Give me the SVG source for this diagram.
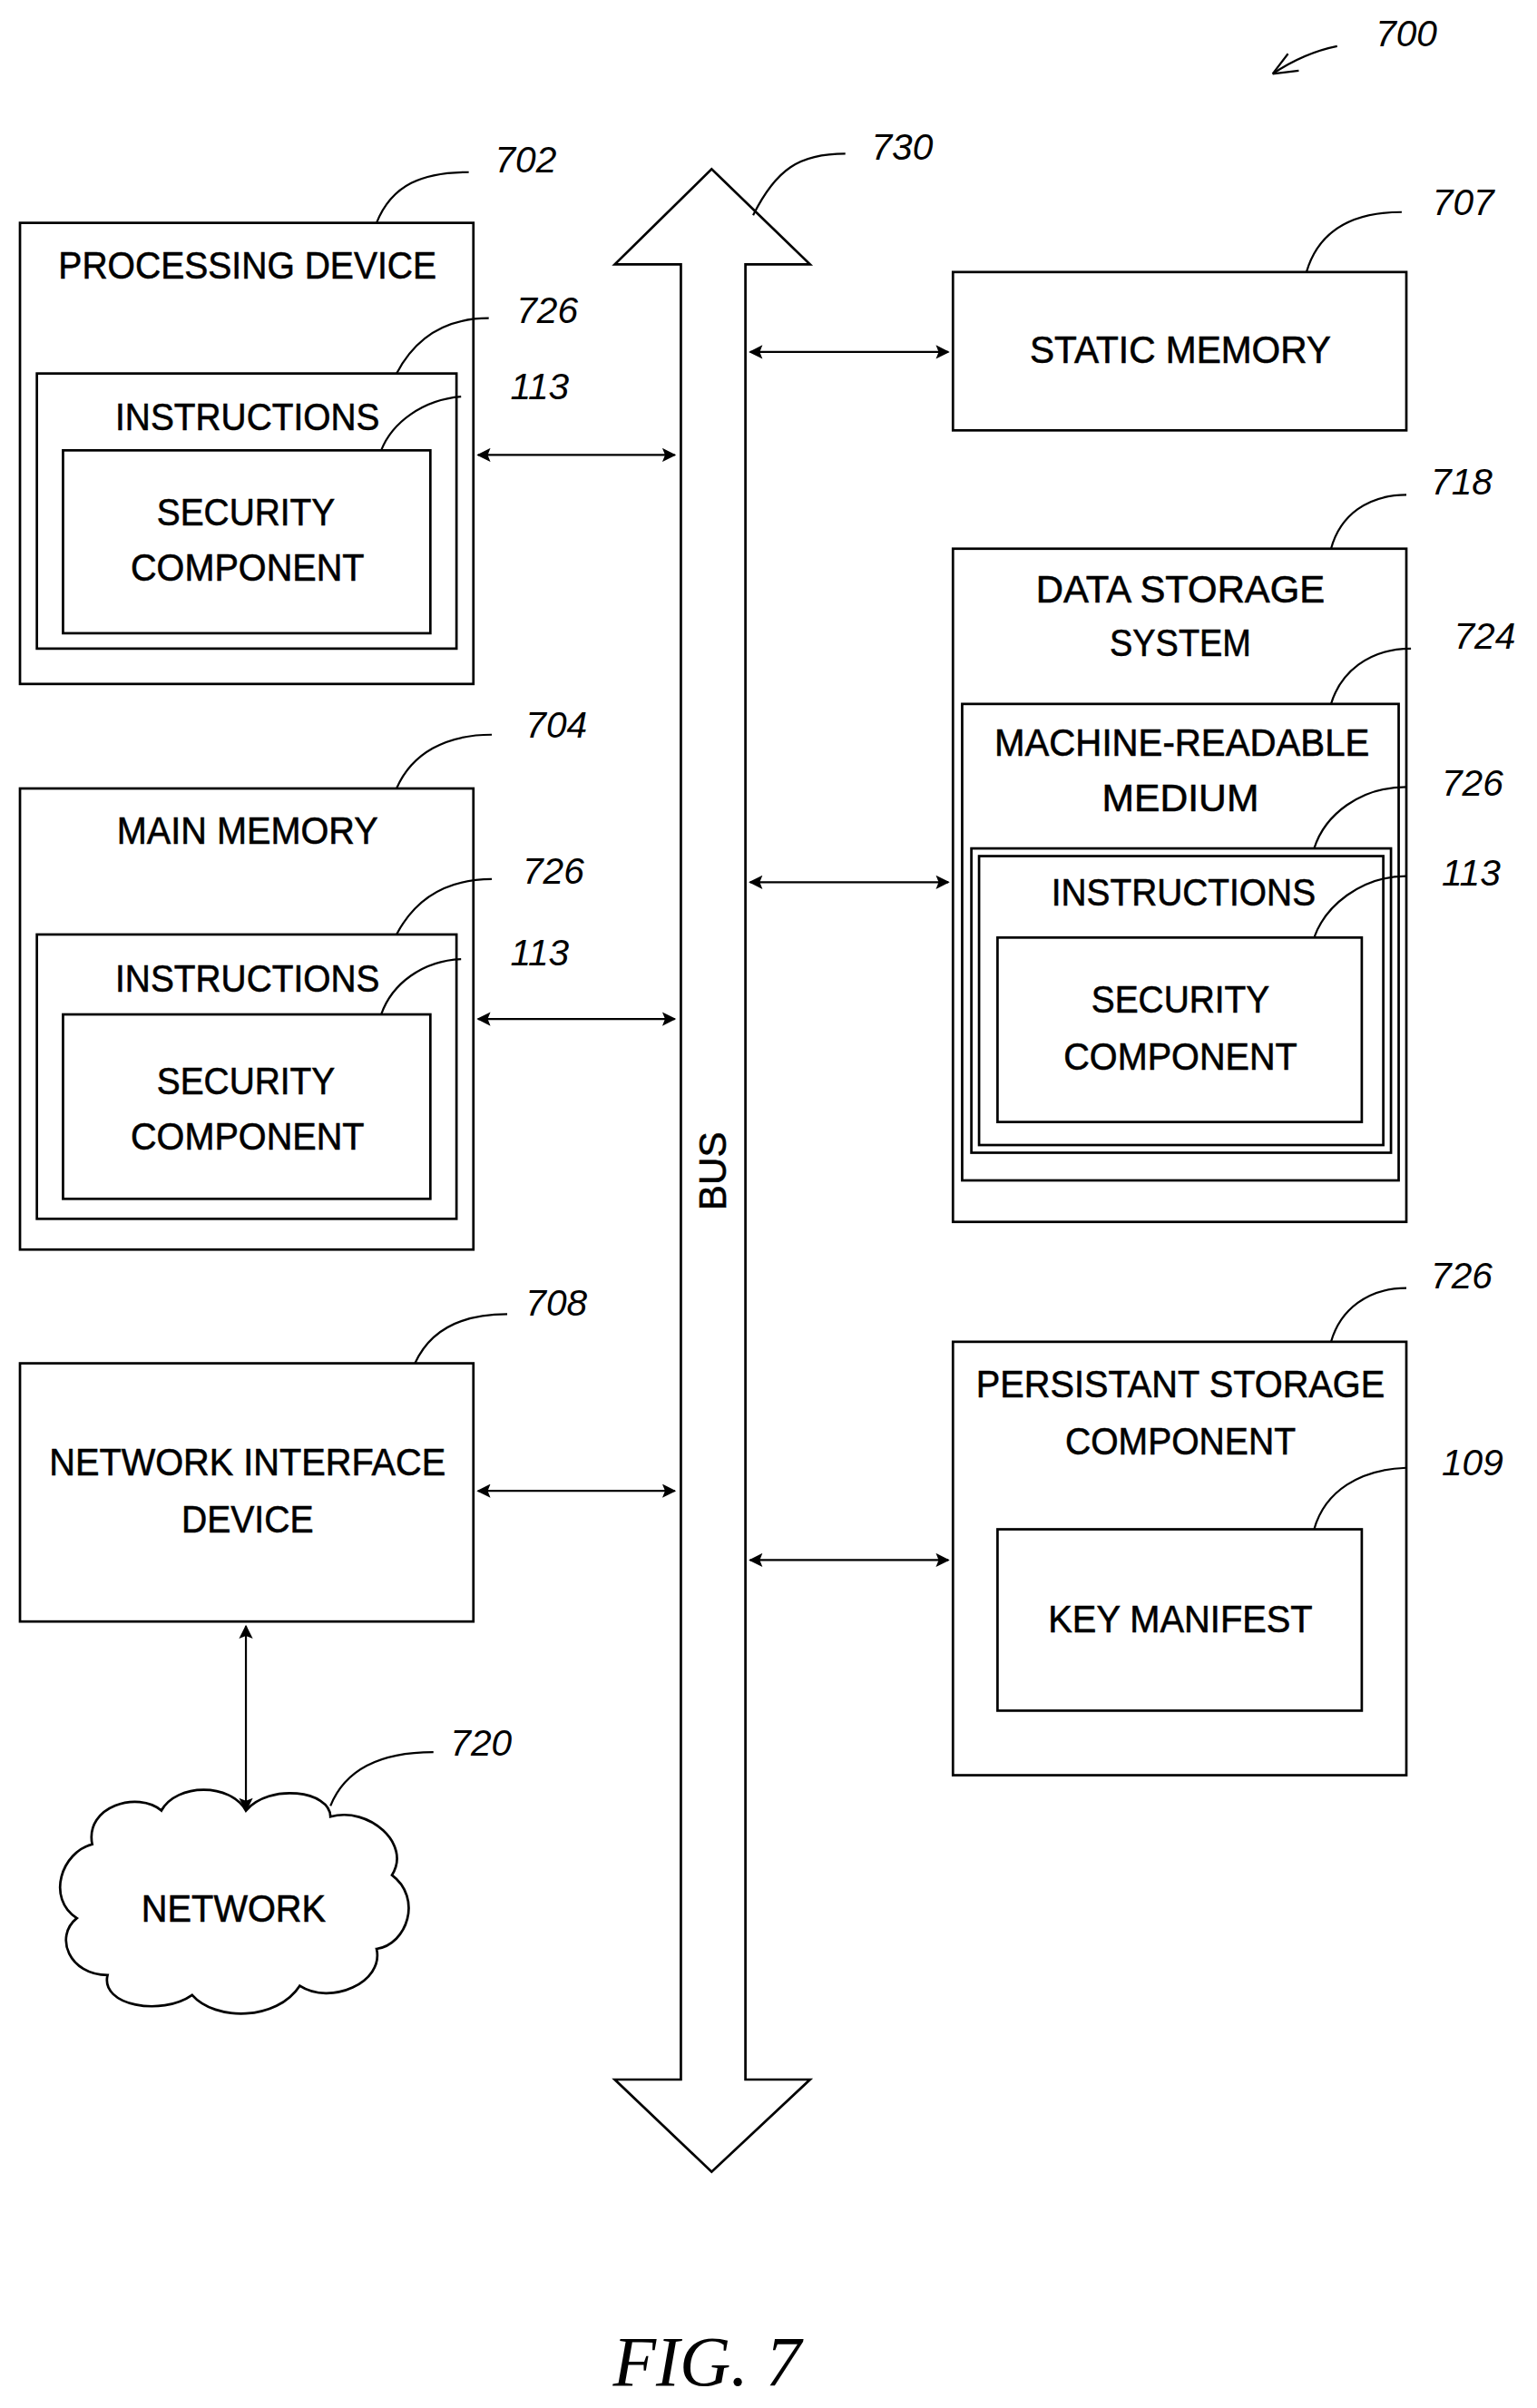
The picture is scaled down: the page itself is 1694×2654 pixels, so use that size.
<svg xmlns="http://www.w3.org/2000/svg" width="1694" height="2654" viewBox="0 0 1694 2654">
<style>
.b{fill:none;stroke:#000;stroke-width:1.6}
.l{fill:none;stroke:#000;stroke-width:1.3}
.t{font-family:"Liberation Sans",Arial,sans-serif;font-size:25px;text-anchor:middle;fill:#000;stroke:#000;stroke-width:0.35}
.n{font-family:"Liberation Sans",Arial,sans-serif;font-size:24px;font-style:italic;fill:#000}
.c{fill:none;stroke:#000;stroke-width:1.3;marker-start:url(#a);marker-end:url(#a)}
</style>
<defs>
<marker id="a" viewBox="0 0 10 10" refX="9" refY="5" markerWidth="11" markerHeight="9" orient="auto-start-reverse" markerUnits="userSpaceOnUse"><path d="M0,0 L10,5 L0,10 L2,5 z" fill="#000"/></marker>
</defs>
<rect width="1694" height="2654" fill="#fff"/>
<g transform="scale(1.694)">
<g id="connectors">
<line class="c" x1="311" y1="296" x2="439" y2="296"/>
<line class="c" x1="311" y1="663" x2="439" y2="663"/>
<line class="c" x1="311" y1="970" x2="439" y2="970"/>
<line class="c" x1="488" y1="229" x2="617" y2="229"/>
<line class="c" x1="488" y1="574" x2="617" y2="574"/>
<line class="c" x1="488" y1="1015" x2="617" y2="1015"/>
<line class="c" x1="160" y1="1058" x2="160" y2="1178"/>
</g>
<g id="bus">
<path class="b" d="M443,1353 L443,172 L400,172 L463,110 L527,172 L485,172 L485,1353 L527,1353 L463,1413 L400,1353 Z"/>
<text class="t" transform="translate(472,762) rotate(-90)" font-size="22">BUS</text>
<path class="l" d="M490,140 C505,110 520,100 550,100"/>
<text class="n" x="567" y="104">730</text>
</g>
<g id="n700">
<text class="n" x="895" y="30">700</text>
<path class="l" d="M870,30 C855,33 840,40 828,48"/>
<path class="l" d="M828,48 L838,35 M828,48 L845,46"/>
</g>
<g id="processing">
<rect class="b" x="13" y="145" width="295" height="300"/>
<text class="t" x="161" y="181" textLength="246" lengthAdjust="spacingAndGlyphs">PROCESSING DEVICE</text>
<rect class="b" x="24" y="243" width="273" height="179"/>
<text class="t" x="161" y="280" textLength="172" lengthAdjust="spacingAndGlyphs">INSTRUCTIONS</text>
<rect class="b" x="41" y="293" width="239" height="119"/>
<text class="t" x="160" y="342" textLength="116" lengthAdjust="spacingAndGlyphs">SECURITY</text>
<text class="t" x="161" y="378" textLength="152" lengthAdjust="spacingAndGlyphs">COMPONENT</text>
<path class="l" d="M245,145 C255,120 275,112 305,112"/><text class="n" x="322" y="112">702</text>
<path class="l" d="M258,243 C270,220 290,207 318,207"/><text class="n" x="336" y="210">726</text>
<path class="l" d="M248,293 C255,275 275,260 300,258"/><text class="n" x="332" y="260">113</text>
</g>
<g id="mainmemory">
<rect class="b" x="13" y="513" width="295" height="300"/>
<text class="t" x="161" y="549" textLength="170" lengthAdjust="spacingAndGlyphs">MAIN MEMORY</text>
<rect class="b" x="24" y="608" width="273" height="185"/>
<text class="t" x="161" y="645" textLength="172" lengthAdjust="spacingAndGlyphs">INSTRUCTIONS</text>
<rect class="b" x="41" y="660" width="239" height="120"/>
<text class="t" x="160" y="712" textLength="116" lengthAdjust="spacingAndGlyphs">SECURITY</text>
<text class="t" x="161" y="748" textLength="152" lengthAdjust="spacingAndGlyphs">COMPONENT</text>
<path class="l" d="M258,513 C268,490 290,478 320,478"/><text class="n" x="342" y="480">704</text>
<path class="l" d="M258,608 C270,585 290,572 320,572"/><text class="n" x="340" y="575">726</text>
<path class="l" d="M248,660 C255,640 275,625 300,624"/><text class="n" x="332" y="628">113</text>
</g>
<g id="nic">
<rect class="b" x="13" y="887" width="295" height="168"/>
<text class="t" x="161" y="960" textLength="258" lengthAdjust="spacingAndGlyphs">NETWORK INTERFACE</text>
<text class="t" x="161" y="997" textLength="86" lengthAdjust="spacingAndGlyphs">DEVICE</text>
<path class="l" d="M270,887 C280,865 300,855 330,855"/><text class="n" x="342" y="856">708</text>
</g>
<g id="network">
<path class="b" d="M60,1200 C55,1175 90,1165 105,1178 C115,1160 150,1160 160,1178 C175,1160 215,1165 215,1182 C240,1175 268,1200 255,1220 C275,1235 265,1265 245,1268 C250,1290 215,1305 195,1292 C180,1315 140,1315 125,1298 C105,1312 65,1305 70,1285 C45,1285 35,1260 50,1248 C30,1235 40,1205 60,1200 Z"/>
<text class="t" x="152" y="1250" textLength="120" lengthAdjust="spacingAndGlyphs">NETWORK</text>
<path class="l" d="M215,1175 C225,1150 250,1140 282,1140"/><text class="n" x="293" y="1142">720</text>
</g>
<g id="static">
<rect class="b" x="620" y="177" width="295" height="103"/>
<text class="t" x="768" y="236" textLength="196" lengthAdjust="spacingAndGlyphs">STATIC MEMORY</text>
<path class="l" d="M850,177 C858,150 880,138 912,138"/><text class="n" x="932" y="140">707</text>
</g>
<g id="datastorage">
<rect class="b" x="620" y="357" width="295" height="438"/>
<text class="t" x="768" y="392" textLength="188" lengthAdjust="spacingAndGlyphs">DATA STORAGE</text>
<text class="t" x="768" y="427" textLength="92" lengthAdjust="spacingAndGlyphs">SYSTEM</text>
<path class="l" d="M866,357 C872,335 890,322 915,322"/><text class="n" x="931" y="322">718</text>
<rect class="b" x="626" y="458" width="284" height="310"/>
<text class="t" x="769" y="492" textLength="244" lengthAdjust="spacingAndGlyphs">MACHINE-READABLE</text>
<text class="t" x="768" y="528" textLength="102" lengthAdjust="spacingAndGlyphs">MEDIUM</text>
<path class="l" d="M866,458 C872,438 890,422 918,422"/><text class="n" x="946" y="422">724</text>
<rect class="b" x="632" y="552" width="273" height="198"/>
<rect class="b" x="637" y="557" width="263" height="188"/>
<text class="t" x="770" y="589" textLength="172" lengthAdjust="spacingAndGlyphs">INSTRUCTIONS</text>
<path class="l" d="M855,552 C862,530 885,512 915,512"/><text class="n" x="938" y="518">726</text>
<rect class="b" x="649" y="610" width="237" height="120"/>
<text class="t" x="768" y="659" textLength="116" lengthAdjust="spacingAndGlyphs">SECURITY</text>
<text class="t" x="768" y="696" textLength="152" lengthAdjust="spacingAndGlyphs">COMPONENT</text>
<path class="l" d="M855,610 C862,590 885,570 915,570"/><text class="n" x="938" y="576">113</text>
</g>
<g id="persistent">
<rect class="b" x="620" y="873" width="295" height="282"/>
<text class="t" x="768" y="909" textLength="266" lengthAdjust="spacingAndGlyphs">PERSISTANT STORAGE</text>
<text class="t" x="768" y="946" textLength="150" lengthAdjust="spacingAndGlyphs">COMPONENT</text>
<path class="l" d="M866,873 C872,852 890,838 915,838"/><text class="n" x="931" y="838">726</text>
<rect class="b" x="649" y="995" width="237" height="118"/>
<text class="t" x="768" y="1062" textLength="172" lengthAdjust="spacingAndGlyphs">KEY MANIFEST</text>
<path class="l" d="M855,995 C862,970 885,956 915,955"/><text class="n" x="938" y="960">109</text>
</g>
<text x="460" y="1552" font-family="Liberation Serif,serif" font-style="italic" font-size="46" text-anchor="middle">FIG. 7</text>
</g>
</svg>
